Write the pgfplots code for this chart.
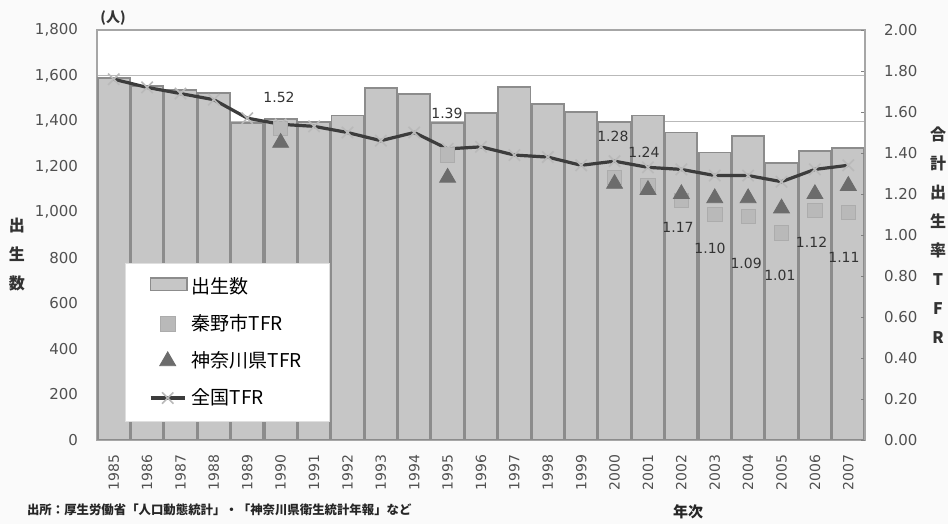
\documentclass[border=0pt]{standalone}
\usepackage{pgfplots}
\usepackage{pgfplotstable}
\pgfplotsset{compat=1.18}
\usepackage{fontspec}
\setmainfont{DejaVu Sans}
\newfontfamily\cjk{Noto Sans CJK JP}
\definecolor{tickgray}{HTML}{505050}
\definecolor{barfill}{HTML}{C6C6C6}
\definecolor{baredge}{HTML}{8C8C8C}
\definecolor{linedark}{HTML}{3C3C3C}

\pgfplotstableread{
x births tfr
0 1590 1.76
1 1555 1.72
2 1535 1.69
3 1525 1.66
4 1390 1.57
5 1410 1.54
6 1395 1.53
7 1425 1.50
8 1545 1.46
9 1520 1.50
10 1390 1.42
11 1435 1.43
12 1550 1.39
13 1475 1.38
14 1440 1.34
15 1395 1.36
16 1425 1.33
17 1350 1.32
18 1262 1.29
19 1335 1.29
20 1216 1.26
21 1268 1.32
22 1282 1.34
}\maintab

\pgfplotstableread{
x tfr
5 1.52
10 1.39
15 1.28
16 1.24
17 1.17
18 1.10
19 1.09
20 1.01
21 1.12
22 1.11
}\hadano

\pgfplotstableread{
x tfr
5 1.45
10 1.28
15 1.25
16 1.22
17 1.20
18 1.18
19 1.18
20 1.13
21 1.20
22 1.24
}\kanagawa

\pgfplotstableread{
x y label
4.95 1.673 1.52
9.98 1.595 1.39
14.95 1.483 1.28
15.88 1.405 1.24
16.9 1.039 1.17
17.86 0.937 1.10
18.94 0.863 1.09
19.95 0.805 1.01
20.9 0.966 1.12
21.87 0.893 1.11
}\labels

\begin{document}
\begin{tikzpicture}
\fill[white!96!gray] (0,0) rectangle (474pt,262pt);
\useasboundingbox (0,0) rectangle (474pt,262pt);

\begin{axis}[
  at={(48.5pt,42pt)}, anchor=south west,
  scale only axis, width=384pt, height=205pt,
  xmin=-0.5, xmax=22.5, ymin=0, ymax=1800,
  axis background/.style={fill=white},
  xtick={0,...,22},
  xticklabels={1985,1986,1987,1988,1989,1990,1991,1992,1993,1994,1995,1996,1997,1998,1999,2000,2001,2002,2003,2004,2005,2006,2007},
  xticklabel style={rotate=90, anchor=east, xshift=-4pt, font=\fontsize{7}{8}\selectfont, text=tickgray},
  ytick={0,200,...,1800},
  yticklabel style={font=\fontsize{7.5}{9}\selectfont, text=tickgray, xshift=-6pt},
  /pgf/number format/.cd, 1000 sep={,}, assume math mode=true,
  /pgfplots/.cd,
  major tick length=0pt,
  ymajorgrids, grid style={gray!55, line width=0.6pt},
  axis line style={gray!70, line width=0.8pt},
  ybar, bar width=0.96,
]
\addplot[fill=barfill, draw=baredge, line width=0.9pt] table[x=x, y=births] {\maintab};
\end{axis}

\begin{axis}[
  at={(48.5pt,42pt)}, anchor=south west,
  scale only axis, width=384pt, height=205pt,
  xmin=-0.5, xmax=22.5, ymin=0, ymax=2,
  axis x line=none,
  axis y line*=right,
  ytick={0,0.2,0.4,0.6,0.8,1.0,1.2,1.4,1.6,1.8,2.0},
  yticklabel style={font=\fontsize{7.5}{9}\selectfont, text=tickgray, xshift=6pt},
  /pgf/number format/.cd, fixed, fixed zerofill, precision=2, assume math mode=true,
  /pgfplots/.cd,
  major tick length=2pt,
  axis line style={gray!70, line width=0.8pt},
  legend cell align=left,
  legend style={at={(0.036,0.044)}, anchor=south west, draw=gray!25, fill=white,
    font=\cjk\fontsize{9.5}{10}\selectfont, row sep=5pt, inner xsep=12pt, inner ysep=5pt},
]
\addlegendimage{legend image code/.code={\draw[fill=barfill, draw=baredge, line width=0.8pt] (0cm,-0.06cm) rectangle (0.64cm,0.16cm);}}
\addlegendentry{出生数}
\addplot[only marks, mark=square*, mark size=3.6pt, mark options={fill=gray!55, draw=gray!65}] table[x=x, y=tfr] {\hadano};
\addlegendentry{秦野市TFR}
\addplot[only marks, mark=triangle*, mark size=4.6pt, mark options={fill=gray!85!black, draw=gray!85!black}] table[x=x, y=tfr] {\kanagawa};
\addlegendentry{神奈川県TFR}
\addplot[color=linedark, line width=1.6pt, mark=x, mark size=4pt, mark options={draw=gray!55, line width=0.8pt}] table[x=x, y=tfr] {\maintab};
\addlegendentry{全国TFR}
\addplot[draw=none, mark=none, nodes near coords, point meta=explicit symbolic,
  nodes near coords style={anchor=center, font=\fontsize{7}{8}\selectfont, text=black!80}, forget plot]
  table[x=x, y=y, meta=label] {\labels};
\end{axis}

\node[font=\cjk\bfseries\fontsize{7}{8}\selectfont, text=black!80] at (56.5pt,253pt) {(人)};
\node[align=center, font=\cjk\bfseries\fontsize{8}{14.5}\selectfont, text=black!80] at (8.5pt,134.5pt) {出\\生\\数};
\node[align=center, font=\cjk\bfseries\fontsize{8}{14.5}\selectfont, text=black!80] at (469pt,144.5pt) {合\\計\\出\\生\\率\\T\\F\\R};
\node[anchor=west, font=\cjk\bfseries\fontsize{6.2}{7}\selectfont, text=black!85] at (10pt,7pt) {出所：厚生労働省「人口動態統計」・「神奈川県衛生統計年報」など};
\node[font=\cjk\bfseries\fontsize{7.5}{8}\selectfont, text=black!85] at (344pt,6pt) {年次};
\end{tikzpicture}
\end{document}
